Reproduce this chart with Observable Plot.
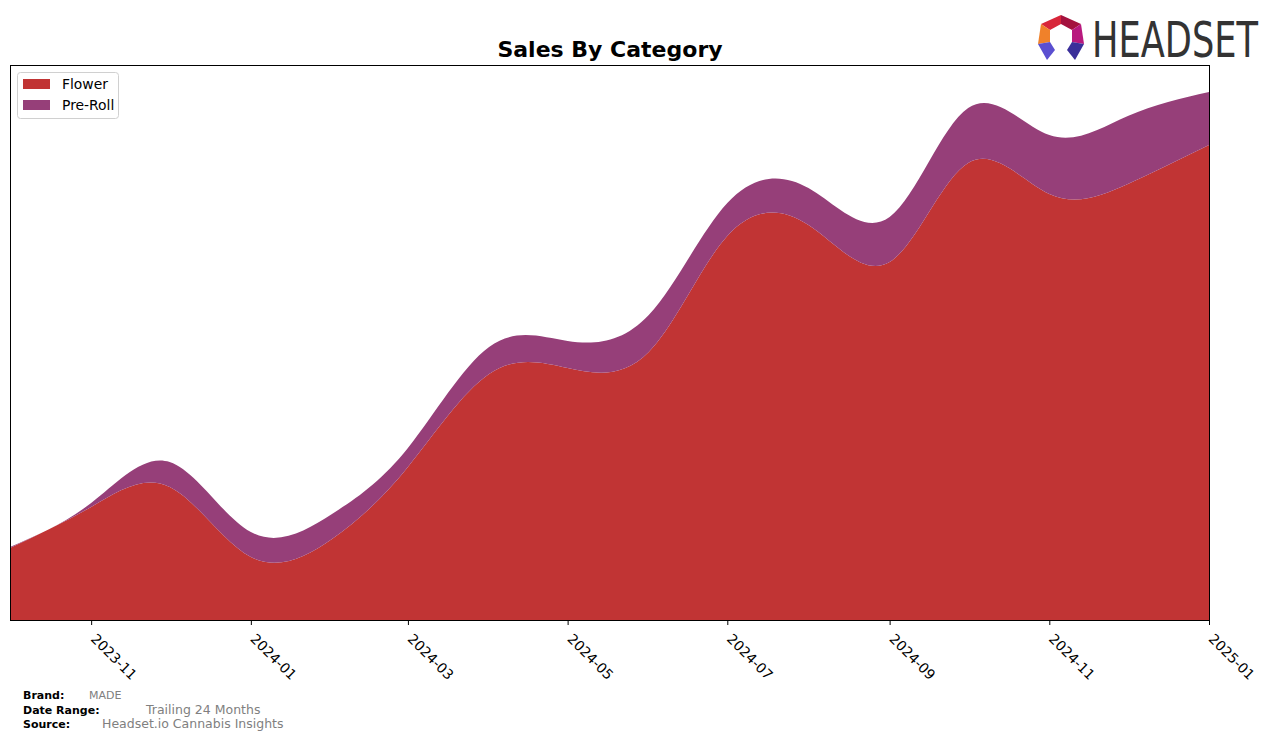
<!DOCTYPE html>
<html><head><meta charset="utf-8">
<script src="https://cdn.jsdelivr.net/npm/d3@7"></script>
<script src="https://cdn.jsdelivr.net/npm/@observablehq/plot@0.6"></script>
<style>
body{margin:0;background:#fff;}
#wrap{position:relative;width:1276px;height:741px;font-family:"DejaVu Sans",sans-serif;overflow:hidden;}
#wrap > svg{position:absolute;left:0;top:0;}
#wrap > svg.logo{left:1030px;top:8px;}
</style></head><body><div id="wrap"></div>
<script>
// ---- data (relative units) ----
const months = ["2023-10","2023-11","2023-12","2024-01","2024-02","2024-03","2024-04","2024-05",
                "2024-06","2024-07","2024-08","2024-09","2024-10","2024-11","2024-12","2025-01"];
const flower  = [72, 113, 133, 63, 81, 153, 246, 252, 268, 384, 395, 358, 457, 426, 436, 475];
const preRoll = [1, 4, 25, 25, 25, 19, 27, 27, 37, 33, 37, 45, 55, 59, 68, 53];
const tickLabels = ["2023-11","2024-01","2024-03","2024-05","2024-07","2024-09","2024-11","2025-01"];
const categories = ["Flower","Pre-Roll"];
const colors = ["#c13434","#963f79"];
const title = "Sales By Category";
const footer = [["Brand:","MADE"],["Date Range:","Trailing 24 Months"],["Source:","Headset.io Cannabis Insights"]];

const rows = [];
months.forEach((m,i)=>{
  rows.push({date:new Date(m+"-01"), category:"Flower", value:flower[i]});
  rows.push({date:new Date(m+"-01"), category:"Pre-Roll", value:preRoll[i]});
});

const chart = Plot.plot({
  width:1276, height:741,
  marginTop:65, marginLeft:10, marginRight:67, marginBottom:121,
  x:{type:"utc", domain:[new Date("2023-10-01"), new Date("2025-01-01")]},
  y:{domain:[0,555], axis:null},
  color:{domain:categories, range:colors},
  style:{fontFamily:"DejaVu Sans", fontSize:"13.9px", background:"transparent", color:"black", overflow:"visible"},
  marks:[
    Plot.areaY(rows, Plot.stackY({x:"date", y:"value", fill:"category", order:categories, curve:"natural"})),
    Plot.frame({stroke:"black", strokeWidth:1}),
    Plot.axisX({ticks:tickLabels.map(t=>new Date(t+"-01")), tickFormat:d3.utcFormat("%Y-%m"),
                tickRotate:45, tickSize:5, tickPadding:4, label:null, fontSize:13.9,
                textStroke:"none"})
  ]
});
document.getElementById("wrap").appendChild(chart);
// nudge rotated tick labels so their top-left corner sits just below the tick (as in reference)
d3.select(chart).selectAll('[aria-label="x-axis tick label"] text')
  .attr("transform", function(){ return (this.getAttribute("transform")||"") + " translate(6,4)"; });

// ---- overlay: title, legend, footer ----
const ov = d3.select("#wrap").append("svg").attr("width",1276).attr("height",741)
  .style("font-family","DejaVu Sans, sans-serif");
ov.append("text").attr("x",610).attr("y",57).attr("text-anchor","middle")
  .attr("font-size",22).attr("font-weight","bold").text(title);

// legend
const lg = ov.append("g");
lg.append("rect").attr("x",17.5).attr("y",72.5).attr("width",101).attr("height",46).attr("rx",3)
  .attr("fill","white").attr("stroke","#d0d0d0");
categories.forEach((c,i)=>{
  lg.append("rect").attr("x",23).attr("y",79+i*21).attr("width",27).attr("height",10).attr("fill",colors[i]);
  lg.append("text").attr("x",62).attr("y",89+i*21).attr("font-size",13.9).text(c);
});

// footer
const fy = [699,714,728], fx = [89,146,102], fs = [11,12.5,12.5];
footer.forEach((f,i)=>{
  ov.append("text").attr("x",23).attr("y",fy[i]).attr("font-size",11).attr("font-weight","bold").text(f[0]);
  ov.append("text").attr("x",fx[i]).attr("y",fy[i]).attr("font-size",fs[i]).attr("fill","#808080").text(f[1]);
});

// logo (own small svg, offset 1030,8)
const logo = d3.select("#wrap").append("svg").attr("class","logo").attr("width",240).attr("height",56)
  .style("font-family","DejaVu Sans, sans-serif");
const polys = [
  ["#d8263a",[[11,16],[31,7],[31,16],[20,22]]],
  ["#a4123e",[[31,7],[51,16],[42,22],[31,16]]],
  ["#f0812a",[[11,16],[20,22],[20,34],[8,36]]],
  ["#b8197e",[[51,16],[54,36],[42,34],[42,22]]],
  ["#5a4fd0",[[8,36],[20,34],[25,42],[17,52]]],
  ["#3a2f9a",[[54,36],[42,34],[37,42],[45,52]]]
];
polys.forEach(([c,p])=>logo.append("polygon").attr("points",p.map(q=>q.join(",")).join(" ")).attr("fill",c));
logo.append("text").attr("x",62).attr("y",49).attr("font-size",50).attr("fill","#333")
  .attr("textLength",166).attr("lengthAdjust","spacingAndGlyphs").text("HEADSET");
</script></body></html>
